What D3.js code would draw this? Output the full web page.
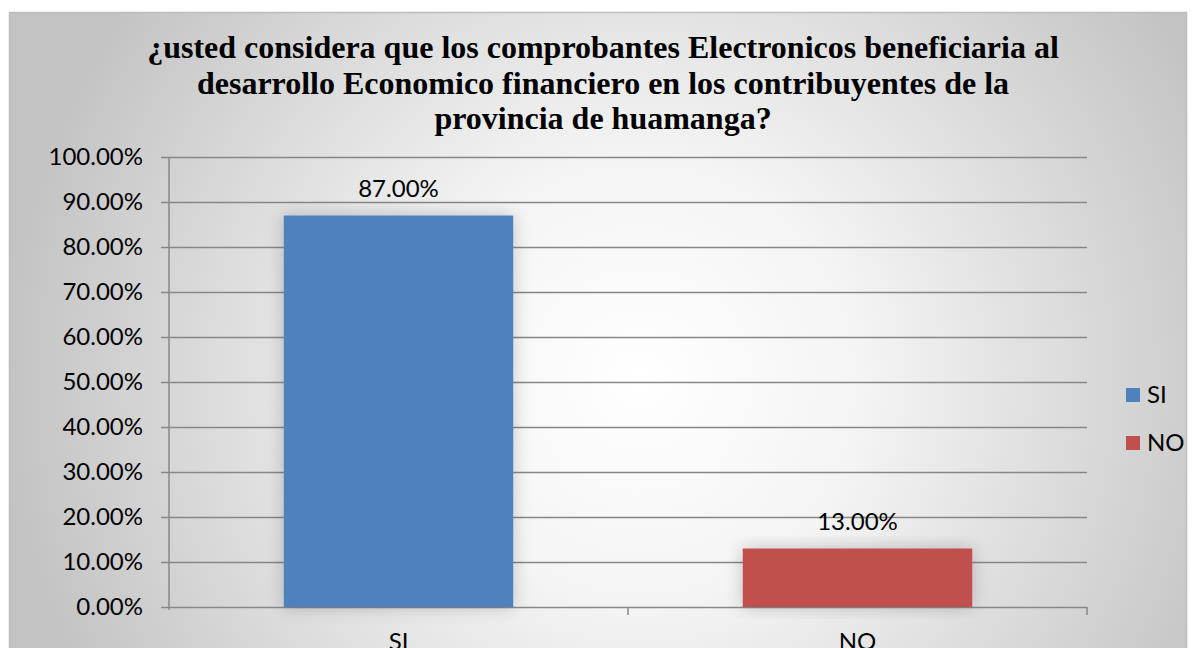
<!DOCTYPE html>
<html><head><meta charset="utf-8">
<script src="https://cdn.jsdelivr.net/npm/d3@7"></script>
<style>body{margin:0;background:#fff;overflow:hidden}
.lbl{font-family:Lato,"Open Sans",sans-serif;font-size:24px}
</style>
</head><body>
<svg id="chart" width="1196" height="648"></svg>
<script>
const categories = ["SI", "NO"];
const values = [0.87, 0.13];
const seriesColors = ["#4f81bd", "#c0504d"];
const yTicks = [0, 0.1, 0.2, 0.3, 0.4, 0.5, 0.6, 0.7, 0.8, 0.9, 1.0];
const titleLines = [
  "¿usted considera que los comprobantes Electronicos beneficiaria al",
  "desarrollo Economico financiero en los contribuyentes de la",
  "provincia de huamanga?"
];

(function () {
const svg = d3.select("#chart");
const defs = svg.append("defs");
const grad = defs.append("radialGradient").attr("id", "bg")
  .attr("gradientUnits", "userSpaceOnUse")
  .attr("cx", 640).attr("cy", 380).attr("r", 640);
grad.append("stop").attr("offset", "0%").attr("stop-color", "#ffffff");
grad.append("stop").attr("offset", "35%").attr("stop-color", "#f4f4f4");
grad.append("stop").attr("offset", "100%").attr("stop-color", "#c3c3c3");

const shadow = defs.append("filter").attr("id", "shadow")
  .attr("x", "-20%").attr("y", "-20%").attr("width", "140%").attr("height", "140%");
shadow.append("feGaussianBlur").attr("in", "SourceAlpha").attr("stdDeviation", 9).attr("result", "b");
shadow.append("feComponentTransfer").attr("in", "b").attr("result", "c")
  .append("feFuncA").attr("type", "linear").attr("slope", 0.22);
const merge = shadow.append("feMerge");
merge.append("feMergeNode").attr("in", "c");
merge.append("feMergeNode").attr("in", "SourceGraphic");

svg.append("rect").attr("x", 9.5).attr("y", 12.5).attr("width", 1177).attr("height", 660)
  .attr("fill", "url(#bg)").attr("stroke", "#bdbdbd").attr("stroke-width", 1.5);

const pL = 169, pR = 1087, pT = 157, pB = 607;
const x = d3.scaleBand().domain(categories).range([pL, pR]).paddingInner(0.5).paddingOuter(0.25);
const y = d3.scaleLinear().domain([0, 1]).range([pB, pT]);

// title
svg.append("g").selectAll("text").data(titleLines).join("text")
  .attr("x", 603).attr("y", (d, i) => 58 + i * 35.5)
  .attr("text-anchor", "middle").attr("fill", "#000")
  .attr("font-family", "Liberation Serif")
  .attr("font-weight", "bold").attr("font-size", 32)
  .text(d => d);

// gridlines + y axis
const yAxis = d3.axisLeft(y).tickValues(yTicks).tickSize(8).tickPadding(18)
  .tickFormat(d => d3.format(".2f")(d * 100) + "%");
const gy = svg.append("g").attr("transform", `translate(${pL},0)`).call(yAxis);
gy.select(".domain").remove();
gy.selectAll(".tick line").attr("x1", -8).attr("x2", pR - pL)
  .attr("stroke", "#878787").attr("stroke-width", 1.5);
gy.attr("font-family", null).attr("font-size", null);
gy.selectAll(".tick text").attr("class", "lbl").attr("fill", "#000");

svg.append("line").attr("x1", pL).attr("x2", pL).attr("y1", pT).attr("y2", pB + 3)
  .attr("stroke", "#878787").attr("stroke-width", 1.5);

// x axis
const xAxis = d3.axisBottom(x).tickSize(0).tickPadding(26);
const gx = svg.append("g").attr("transform", `translate(0,${pB})`).call(xAxis);
gx.select(".domain").remove();
gx.attr("font-family", null).attr("font-size", null);
gx.selectAll(".tick text").attr("class", "lbl").attr("fill", "#000");
const catBoundaries = [pL + (pR - pL) / 2, pR];
svg.append("g").selectAll("line").data(catBoundaries).join("line")
  .attr("x1", d => d).attr("x2", d => d).attr("y1", pB).attr("y2", pB + 8)
  .attr("stroke", "#878787").attr("stroke-width", 1.5);

// bars
svg.append("g").selectAll("rect").data(categories).join("rect")
  .attr("x", d => x(d)).attr("width", x.bandwidth())
  .attr("y", (d, i) => y(values[i])).attr("height", (d, i) => pB - y(values[i]))
  .attr("fill", (d, i) => seriesColors[i]).attr("filter", "url(#shadow)");

// data labels
svg.append("g").selectAll("text").data(categories).join("text")
  .attr("class", "lbl")
  .attr("x", d => x(d) + x.bandwidth() / 2).attr("y", (d, i) => y(values[i]) - 19)
  .attr("text-anchor", "middle").attr("fill", "#000")
  .text((d, i) => d3.format(".2f")(values[i] * 100) + "%");

// legend
const lg = svg.append("g").selectAll("g").data(categories).join("g")
  .attr("transform", (d, i) => `translate(1126,${388 + i * 48})`);
lg.append("rect").attr("width", 14).attr("height", 14).attr("fill", (d, i) => seriesColors[i]);
lg.append("text").attr("class", "lbl").attr("x", 21).attr("y", 15).attr("fill", "#000")
  .text(d => d);
})();
</script>
</body></html>
